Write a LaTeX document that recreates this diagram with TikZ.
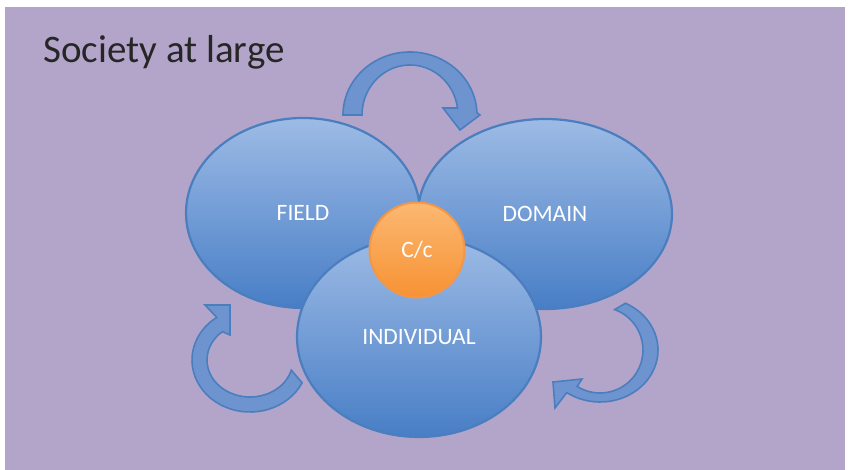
\documentclass[tikz,border=0pt]{standalone}
\usepackage{fontspec}
\setmainfont{Carlito}
\usetikzlibrary{shapes.geometric}
\definecolor{society}{RGB}{179,165,202}
\definecolor{ringtop}{RGB}{157,187,229}
\definecolor{ringbot}{RGB}{72,126,198}
\definecolor{ringedge}{RGB}{74,126,190}
\definecolor{arrowfill}{RGB}{110,148,208}
\definecolor{cctop}{RGB}{251,184,114}
\definecolor{ccbot}{RGB}{247,146,52}
\definecolor{ccedge}{RGB}{245,150,70}

\begin{document}
\begin{tikzpicture}[x=1pt,y=1pt,
  sphere/.style={ellipse,draw=ringedge,line width=2.2pt,top color=ringtop,bottom color=ringbot,text=white,inner sep=0pt,font=\fontsize{23.5}{28}\selectfont},
  cyclearrow/.style={fill=arrowfill,draw=ringedge,line width=1.6pt,line join=miter}]
\fill[white] (0,0) rectangle (849,470);
\fill[society] (5,0) rectangle (845,463);
\node[anchor=base west,text=black!85,font=\fontsize{39}{46}\selectfont] (title) at (40,407) {Society at large};
\node[sphere,minimum width=234pt,minimum height=190pt] (field) at (303,257) {FIELD};
\node[sphere,minimum width=254pt,minimum height=190pt] (domain) at (545,256) {DOMAIN};
\node[sphere,minimum width=244pt,minimum height=200pt] (individual) at (419,133) {INDIVIDUAL};
\node[circle,draw=ccedge,line width=2pt,top color=cctop,bottom color=ccbot,text=white,minimum size=95pt,inner sep=0pt,font=\fontsize{23.5}{28}\selectfont] (cc) at (417,220) {C/c};
\begin{scope}[shift={(410,355)}]
\draw[cyclearrow] (180:67 and 63) arc[start angle=180,end angle=2,x radius=67,y radius=63] -- (70,0) -- (50,-15) -- (33,7) -- (8:48 and 50) arc[start angle=8,end angle=180,x radius=48,y radius=50] -- cycle;
\end{scope}
\begin{scope}[shift={(250,110)}]
\draw[cyclearrow] (-26:58 and 52) arc[start angle=-26,end angle=-235,x radius=58,y radius=52] -- (-45,55) -- (-20,55) -- (-20,25) -- (-230:43 and 37) arc[start angle=-230,end angle=-16,x radius=43,y radius=37] -- cycle;
\end{scope}
\begin{scope}[shift={(600,120)}]
\draw[cyclearrow] (64:58 and 52) arc[start angle=64,end angle=-125,x radius=58,y radius=52] -- (-45,-58) -- (-47,-32) -- (-18,-29) -- (-122:43 and 43) arc[start angle=-122,end angle=70,x radius=43,y radius=43] -- cycle;
\end{scope}
\end{tikzpicture}
\end{document}
